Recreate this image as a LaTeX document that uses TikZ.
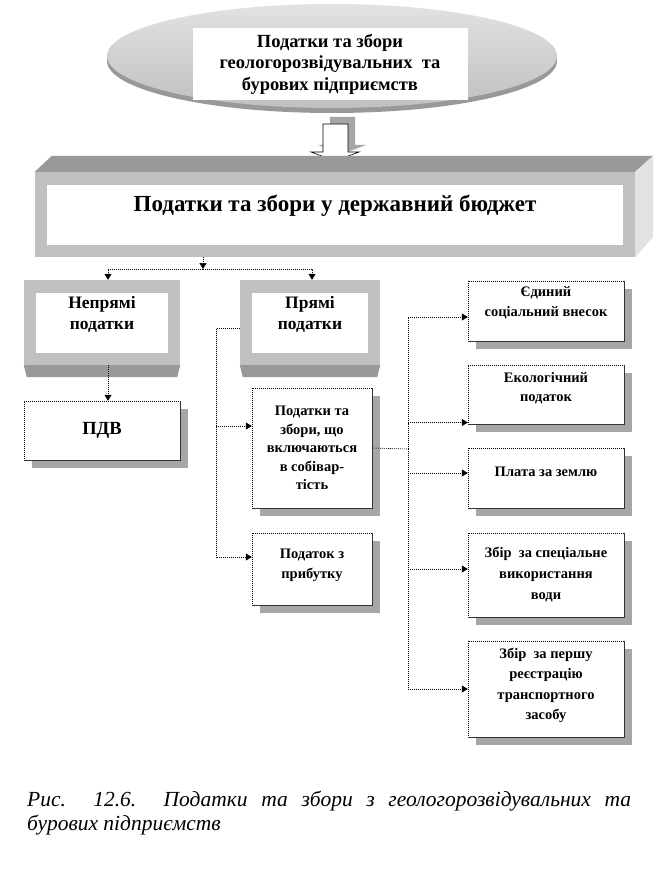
\documentclass[tikz,border=0pt]{standalone}
\usepackage{fontspec}
\setmainfont{Liberation Serif}
\usetikzlibrary{arrows.meta,calc,shadows,positioning}
\definecolor{taxdark}{HTML}{999999}
\definecolor{taxmid}{HTML}{C0C0C0}
\definecolor{taxlight}{HTML}{E2E2E2}
\definecolor{taxshade}{HTML}{A6A6A6}

\begin{document}
\begin{tikzpicture}[x=1pt,y=-1pt,>={Triangle[width=7pt,length=6pt]},
  panel/.style={fill=taxmid,minimum width=#1,minimum height=85,inner sep=0pt,align=center,
    path picture={\fill[white] ($(path picture bounding box.south west)+(12pt,12pt)$)
      rectangle ($(path picture bounding box.north east)+(-12pt,-13pt)$);}},
  cell/.style={draw,dash pattern=on 1pt off 1pt,fill=white,align=center,inner sep=2pt,
    font=\bfseries\fontsize{14.5}{18.5}\selectfont,
    drop shadow={shadow xshift=8pt,shadow yshift=-8pt,fill=taxshade,opacity=1}},
  small/.style={font=\bfseries\fontsize{14.5}{#1}\selectfont},
  link/.style={dash pattern=on 1pt off 1pt,line width=.6pt},
  arr/.style={link,->}]
\useasboundingbox (0,0) rectangle (660,893);
\fill[white] (0,0) rectangle (660,893);
\fill[taxdark] (332,61) ellipse (225 and 52);
\shade[top color=taxlight,bottom color=taxmid] (332,56) ellipse (225 and 52);
\node[fill=white,minimum width=275,minimum height=72,align=center,
  font=\bfseries\fontsize{18.5}{21.5}\selectfont] (top) at (330,64)
  {Податки та збори\\геологорозвідувальних\ \ та\\бурових підприємств};
\fill[taxshade,shift={(7,-7)}] (323,124) -- (348,124) -- (348,152) -- (359,152) -- (335,161) -- (311,152) -- (323,152) -- cycle;
\draw[fill=white,line width=.6pt] (323,124) -- (348,124) -- (348,152) -- (359,152) -- (335,161) -- (311,152) -- (323,152) -- cycle;
\node[panel=600,text depth=22pt,font=\bfseries\fontsize{23}{27}\selectfont] (budget) at (335,214.5)
  {Податки та збори у державний бюджет};
\fill[taxdark] (budget.north west) -- ++(17,-16) -- ++(601,0) -- (budget.north east) -- cycle;
\fill[taxlight] (budget.north east) -- ++(18,-16) -- ++(0,81) -- (budget.south east) -- cycle;
\node[panel=156,text depth=20pt,font=\bfseries\fontsize{17.5}{21}\selectfont] (indirect) at (102,322.5) {Непрямі\\податки};
\node[panel=140,text depth=20pt,font=\bfseries\fontsize{17.5}{21}\selectfont] (direct) at (310,322.5) {Прямі\\податки};
\foreach \n in {indirect,direct}
  \fill[taxdark] (\n.south west) -- (\n.south east) -- ++(-3,12) -- ($(\n.south west)+(3,12)$) -- cycle;
\node[cell,minimum width=156,minimum height=59,font=\bfseries\fontsize{18.5}{22}\selectfont] (vat) at (102,430.5) {ПДВ};
\node[cell,minimum width=120,minimum height=120] (cost) at (312,448) {Податки та\\збори, що\\включаються\\в собівар-\\тість};
\node[cell,minimum width=120,minimum height=72,text depth=11pt,small=20] (profit) at (312,569) {Податок з\\прибутку};
\node[cell,minimum width=156,minimum height=60,text height=14pt,small=20] (social) at (546,311) {Єдиний\\соціальний внесок};
\node[cell,minimum width=156,minimum height=59,text height=16pt,small=19] (eco) at (546,394.5) {Екологічний\\податок};
\node[cell,minimum width=156,minimum height=60,text depth=13pt,small=19] (land) at (546,478) {Плата за землю};
\node[cell,minimum width=156,minimum height=84,small=21] (water) at (546,575) {Збір\ \ за спеціальне\\використання\\води};
\node[cell,minimum width=156,minimum height=96,text depth=10pt,small=20.5] (reg) at (546,689) {Збір\ \ за першу\\реєстрацію\\транспортного\\засобу};
\foreach \n in {vat,cost,profit,social,eco,land,water,reg}
  \draw[line width=.8pt,black!80] (\n.north east) -- (\n.south east) -- (\n.south west);
\coordinate (fork) at (203,269);
\draw[arr] (budget.south -| fork) -- (fork);
\draw[arr] (fork) -| ([xshift=6pt]indirect.north);
\draw[arr] (fork) -| ([xshift=2pt]direct.north);
\draw[arr] ([xshift=6pt]indirect.south) -- ([xshift=6pt]vat.north);
\draw[arr] ([yshift=-6pt]direct.west) -- ++(-24,0) |- ([yshift=22pt]cost.west);
\draw[arr] ([yshift=-6pt]direct.west) -- ++(-24,0) |- ([yshift=12pt]profit.west);
\coordinate (hub) at (408,449);
\draw[link] (cost.east) -- (hub);
\foreach \n/\dy in {social/-6,eco/-28,land/5,water/6,reg/0}
  \draw[arr] (hub) |- ([yshift=\dy pt]\n.west);
\node[anchor=north west,text width=604,align=justify,inner sep=0pt,
  font=\itshape\fontsize{21.5}{24}\selectfont] (caption) at (27,791)
  {Рис.\ \ 12.6.\ \ Податки та збори з геологорозвідувальних та\linebreak бурових підприємств};
\end{tikzpicture}
\end{document}
